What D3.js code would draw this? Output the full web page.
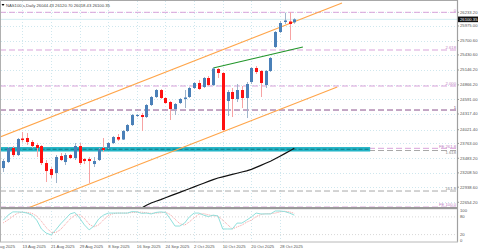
<!DOCTYPE html>
<html>
<head>
<meta charset="utf-8">
<script src="https://cdn.jsdelivr.net/npm/d3@7"></script>
<style>
  body { margin: 0; background: #fff; }
  svg { display: block; }
  text { font-family: "Liberation Sans", Arial, sans-serif; }
</style>
</head>
<body>
<svg id="chart"></svg>
<script>
// daily bars, 7 Aug .. 31 Oct 2025
var dates = ["7 Aug","8 Aug","11 Aug","12 Aug","13 Aug","14 Aug","15 Aug","18 Aug","19 Aug","20 Aug","21 Aug","22 Aug","25 Aug","26 Aug","27 Aug","28 Aug","29 Aug",
  "1 Sep","2 Sep","3 Sep","4 Sep","5 Sep","8 Sep","9 Sep","10 Sep","11 Sep","12 Sep","15 Sep","16 Sep","17 Sep","18 Sep","19 Sep","22 Sep","23 Sep","24 Sep","25 Sep","26 Sep","29 Sep","30 Sep",
  "1 Oct","2 Oct","3 Oct","6 Oct","7 Oct","8 Oct","9 Oct","10 Oct","13 Oct","14 Oct","15 Oct","16 Oct","17 Oct","20 Oct","21 Oct","22 Oct","23 Oct","24 Oct","27 Oct","28 Oct","29 Oct","30 Oct","31 Oct"];
var opens = [23299.8,23412.8,23676.6,23544.7,23855.6,23865.0,23789.6,23733.1,23714.3,23394.0,23280.9,23205.6,23525.9,23412.8,23544.7,23488.2,23714.3,
  23469.3,23469.3,23375.1,23450.5,23676.6,23676.6,23770.8,23883.8,23836.7,23996.9,24109.9,24279.4,24298.3,24260.6,24486.7,24637.4,24769.3,24618.6,24543.2,24411.3,24524.4,24599.7,
  24637.4,24807.0,24901.2,24825.8,24995.4,24863.5,25164.9,25089.6,24562.1,24731.6,24599.7,24769.3,24618.6,24920.0,25183.8,25127.3,24863.5,25127.3,25579.4,25862.0,26050.4,26059.8,26044.43];
var highs = [23469.3,23695.4,23714.3,23865.0,23978.0,23959.2,23827.3,23770.8,23733.1,23450.5,23318.6,23544.7,23582.4,23582.4,23563.5,23770.8,23770.8,
  23488.2,23507.0,23507.0,23676.6,23865.0,23789.6,23902.7,23940.3,24015.7,24128.7,24317.1,24317.1,24335.9,24505.5,24656.3,24788.1,24788.1,24637.4,24562.1,24524.4,24618.6,24769.3,
  24825.8,24920.0,24957.7,25014.2,25033.1,25193.2,25183.8,25108.4,24769.3,24807.0,24882.3,24844.7,24920.0,25202.6,25221.5,25146.1,25146.1,25391.0,25880.9,26069.3,26226.0,26233.2,26120.70];
var lows = [23224.4,23394.0,23507.0,23525.9,23789.6,23733.1,23676.6,23507.0,23356.3,23036.0,23111.4,23017.2,23431.7,23356.3,23469.3,23450.5,23356.3,
  23375.1,23017.2,23318.6,23431.7,23601.2,23657.7,23751.9,23808.5,23827.3,23978.0,24091.1,24260.6,23996.9,24241.7,24467.9,24618.6,24599.7,24505.5,24204.1,24298.3,24505.5,24430.2,
  24618.6,24788.1,24769.3,24807.0,24844.7,24844.7,24995.4,23996.9,24279.4,24260.6,24543.2,24430.2,24241.7,24882.3,25070.7,24637.4,24807.0,25108.4,25560.6,25843.2,26012.7,25711.3,26018.43];
var closes = [23431.7,23676.6,23544.7,23846.1,23827.3,23789.6,23714.3,23676.6,23394.0,23243.3,23167.9,23507.0,23450.5,23544.7,23488.2,23714.3,23394.0,
  23431.7,23431.7,23431.7,23657.7,23638.9,23770.8,23883.8,23836.7,23996.9,24109.9,24298.3,24298.3,24260.6,24486.7,24637.4,24769.3,24618.6,24524.4,24411.3,24505.5,24599.7,24628.0,
  24807.0,24901.2,24788.1,24995.4,24863.5,25174.3,25089.6,24015.7,24731.6,24599.7,24769.3,24618.6,24882.3,25183.8,25108.4,24901.2,25127.3,25372.2,25862.0,26031.6,26078.7,26012.7,26100.35];

// black moving average, from bar 16 Sep onwards
var maStart = 28;
var maValues = [22499.1,22546.2,22598.9,22642.3,22674.3,22704.4,22740.2,22774.1,22808.1,22842.0,22875.9,22909.8,22943.7,22979.5,23013.4,23047.3,23081.2,
  23111.4,23134.0,23156.6,23179.2,23201.8,23224.4,23247.0,23273.4,23311.1,23350.6,23390.2,23427.9,23473.1,23522.1,23571.1,23620.1,23671.0];

// stochastic oscillator
var stochMain = [69,86,97,97,96,93,86,69,39,25,19,36,56,73,90,95,76,53,36,49,73,86,93,93,93,93,93,98,97,92,93,90,95,97,95,73,49,49,59,80,93,93,86,81,86,83,39,39,39,59,59,69,80,93,90,90,90,100,100,98,93,86];
var stochSignal = [60,70,82,93,96,95,92,83,65,44,28,27,37,55,73,86,87,75,55,46,53,70,84,91,93,93,93,95,96,96,94,92,93,94,96,88,72,57,52,63,77,89,91,87,84,83,69,54,39,46,52,62,69,81,88,91,91,93,97,99,97,92];
var stochLevels = [100, 80, 20, 0];

var priceTicks = [26233.20,25975.00,25700.60,25430.60,25146.20,24866.20,24591.00,24317.40,24021.40,23763.00,23483.20,23208.50,22938.60,22654.20];
var dateTicks = ["5 Aug 2025","13 Aug 2025","21 Aug 2025","29 Aug 2025","8 Sep 2025","16 Sep 2025","24 Sep 2025","2 Oct 2025","10 Oct 2025","20 Oct 2025","28 Oct 2025"];

// fibo / horizontal levels
var levelPrices = [26233.2,25522.9,24844.7,24392.5,23670.9,23629.5,22866.5,22565.0];
var levelNames = ["0","2.618","2.000","1","FE 261.8","1.618","161.8","FE 100.0"];
var levelKinds = ["fib","fib","fib","main","fib","grey","grey","fib"];

// drawn objects (bar index, price)
var channelUpper = [[-0.7, 23884], [71, 26408]];
var channelLower = [[-0.7, 22340], [70, 24826]];
var trendGreen = [[44, 25184], [62.8, 25579]];
var zoneTop = 23695, zoneBottom = 23611, zoneFrom = -1, zoneTo = 76.9;

var title = "NAS100.s,Daily  26044.43 26120.70 26018.43 26100.35";

var W = 478, H = 250;
var plotRight = 457, mainTop = 1, mainBottom = 207;
var fs = "4.2px";

var svg = d3.select("#chart").attr("width", W).attr("height", H);

var x = d3.scaleLinear().domain([0, dates.length - 1]).range([3.3, 294.3]);
var y = d3.scaleLinear().domain([22654.2, 26233.2]).range([202.3, 12.3]);
var ys = d3.scaleLinear().domain([0, 100]).range([240.5, 211]);

var levelColor = { fib: "#d9a3da", main: "#8a4f8c", grey: "#a8a8a8" };
var labelColor = { fib: "#c27fc4", main: "#7a3f7c", grey: "#888" };

svg.append("defs").append("clipPath").attr("id", "mainClip")
  .append("rect").attr("x", 1).attr("y", mainTop).attr("width", plotRight - 1).attr("height", mainBottom - mainTop);

// grid
var grid = svg.append("g");
grid.selectAll(".hg").data(priceTicks).enter().append("line")
  .attr("x1", 1).attr("x2", plotRight)
  .attr("y1", function (d) { return Math.round(y(d)) + 0.5; })
  .attr("y2", function (d) { return Math.round(y(d)) + 0.5; })
  .attr("stroke", "#cfe7ee").attr("stroke-dasharray", "1,2");
grid.selectAll(".vg").data(dateTicks).enter().append("line")
  .attr("x1", function (d, i) { return Math.round(x(-2 + 6 * i)) + 0.5; })
  .attr("x2", function (d, i) { return Math.round(x(-2 + 6 * i)) + 0.5; })
  .attr("y1", mainTop).attr("y2", 242)
  .attr("stroke", "#cfe7ee").attr("stroke-dasharray", "1,2");

var main = svg.append("g").attr("clip-path", "url(#mainClip)");

// bid line
var last = closes[closes.length - 1];
main.append("line").attr("x1", 0).attr("x2", plotRight)
  .attr("y1", y(last)).attr("y2", y(last))
  .attr("stroke", "#d3edf3");

// horizontal levels
main.selectAll(".lvl").data(levelPrices).enter().append("line")
  .attr("x1", 0).attr("x2", plotRight)
  .attr("y1", function (d) { return y(d); })
  .attr("y2", function (d) { return y(d); })
  .attr("stroke", function (d, i) { return levelColor[levelKinds[i]]; })
  .attr("stroke-width", 1)
  .attr("stroke-dasharray", "6,3");

main.selectAll(".lvlLabel").data(levelPrices).enter().append("text")
  .attr("x", plotRight - 1)
  .attr("y", function (d, i) { return levelKinds[i] == "grey" && levelNames[i] == "1.618" ? y(d) + 3.4 : y(d) - 0.8; })
  .attr("text-anchor", "end")
  .style("font-size", fs)
  .attr("fill", function (d, i) { return labelColor[levelKinds[i]]; })
  .text(function (d, i) { return levelNames[i]; });

// zone band
main.append("rect")
  .attr("x", x(zoneFrom)).attr("width", x(zoneTo) - x(zoneFrom))
  .attr("y", y(zoneTop)).attr("height", y(zoneBottom) - y(zoneTop))
  .attr("fill", "#22b4c6");
main.append("line")
  .attr("x1", x(zoneFrom)).attr("x2", x(zoneTo))
  .attr("y1", y((zoneTop + zoneBottom) / 2)).attr("y2", y((zoneTop + zoneBottom) / 2))
  .attr("stroke", "#137987").attr("stroke-dasharray", "4,2");

// channel + trend lines
var seg = d3.line().x(function (d) { return x(d[0]); }).y(function (d) { return y(d[1]); });
[channelUpper, channelLower].forEach(function (c) {
  main.append("path").attr("d", seg(c)).attr("fill", "none").attr("stroke", "#ffa54a").attr("stroke-width", 1.1);
});
main.append("path").attr("d", seg(trendGreen)).attr("fill", "none").attr("stroke", "#22962a").attr("stroke-width", 1.2);

// moving average
var maLine = d3.line()
  .x(function (d, i) { return x(maStart + i); })
  .y(function (d) { return y(d); });
main.append("path").attr("d", maLine(maValues)).attr("fill", "none").attr("stroke", "#111").attr("stroke-width", 1.2);

// candles
var bars = main.selectAll(".bar").data(dates).enter().append("g");
bars.append("line")
  .attr("x1", function (d, i) { return Math.round(x(i)) + 0.5; })
  .attr("x2", function (d, i) { return Math.round(x(i)) + 0.5; })
  .attr("y1", function (d, i) { return y(highs[i]); })
  .attr("y2", function (d, i) { return y(lows[i]); })
  .attr("stroke", function (d, i) { return closes[i] >= opens[i] ? "#9fb4ca" : "#f7a3a3"; });
bars.append("rect")
  .attr("x", function (d, i) { return Math.round(x(i)) - 1; })
  .attr("width", 3)
  .attr("y", function (d, i) { return y(Math.max(opens[i], closes[i])); })
  .attr("height", function (d, i) { return Math.max(1, Math.abs(y(opens[i]) - y(closes[i]))); })
  .attr("fill", function (d, i) { return closes[i] >= opens[i] ? "#4a80b8" : "#ff1010"; });

// stochastic panel
var stoch = svg.append("g");
stoch.selectAll(".sl").data([80, 20]).enter().append("line")
  .attr("x1", 1).attr("x2", plotRight)
  .attr("y1", function (d) { return ys(d); }).attr("y2", function (d) { return ys(d); })
  .attr("stroke", "#d8d8d8").attr("stroke-dasharray", "1,2");
var sLine = d3.line().x(function (d, i) { return x(i); }).y(function (d) { return ys(d); });
stoch.append("path").attr("d", sLine(stochSignal)).attr("fill", "none")
  .attr("stroke", "#f7a0a0").attr("stroke-width", 1).attr("stroke-dasharray", "1,1");
stoch.append("path").attr("d", sLine(stochMain)).attr("fill", "none")
  .attr("stroke", "#8fe0dc").attr("stroke-width", 1);

// frame
svg.append("rect").attr("x", 0).attr("y", mainBottom).attr("width", plotRight).attr("height", 2.2).attr("fill", "#9a9a9a");
svg.append("line").attr("x1", 0).attr("x2", plotRight + 1).attr("y1", 0.5).attr("y2", 0.5).attr("stroke", "#a8a8a8");
svg.append("line").attr("x1", 0.5).attr("x2", 0.5).attr("y1", 0).attr("y2", 242).attr("stroke", "#b0b0b0");
svg.append("line").attr("x1", plotRight + 0.5).attr("x2", plotRight + 0.5).attr("y1", 0).attr("y2", 242).attr("stroke", "#a0a0a0").attr("stroke-width", 1.2);
svg.append("line").attr("x1", 0).attr("x2", plotRight + 1).attr("y1", 242).attr("y2", 242).attr("stroke", "#b8b8b8");

// price axis
var axisG = svg.append("g");
axisG.selectAll(".pt").data(priceTicks).enter().append("text")
  .attr("x", plotRight + 3)
  .attr("y", function (d) { return y(d); })
  .attr("dy", "0.35em")
  .style("font-size", fs).attr("fill", "#555")
  .text(function (d) { return d.toFixed(2); });
axisG.selectAll(".tk").data(priceTicks).enter().append("line")
  .attr("x1", plotRight).attr("x2", plotRight + 2)
  .attr("y1", function (d) { return y(d); }).attr("y2", function (d) { return y(d); })
  .attr("stroke", "#999");

// current price tag
axisG.append("rect").attr("x", plotRight + 1).attr("y", y(last) - 2.8).attr("width", W - plotRight - 1).attr("height", 5.6).attr("fill", "#111");
axisG.append("text").attr("x", plotRight + 3).attr("y", y(last)).attr("dy", "0.35em")
  .style("font-size", fs).attr("fill", "#fff").text(last.toFixed(2));

// stochastic axis
axisG.selectAll(".st").data(stochLevels).enter().append("text")
  .attr("x", plotRight + 3)
  .attr("y", function (d) { return ys(d); })
  .attr("dy", "0.35em")
  .style("font-size", fs).attr("fill", "#555")
  .text(function (d) { return d; });

// time axis
svg.selectAll(".dt").data(dateTicks).enter().append("text")
  .attr("x", function (d, i) { return x(-2 + 6 * i); })
  .attr("y", 247.5)
  .style("font-size", fs).attr("fill", "#555")
  .text(function (d) { return d; });

// title
svg.append("path").attr("d", "M1.5,4 L4.5,4 L3,6 Z").attr("fill", "#000");
svg.append("text").attr("x", 6).attr("y", 6.5)
  .style("font-size", fs).attr("fill", "#444").text(title);
</script>
</body>
</html>
